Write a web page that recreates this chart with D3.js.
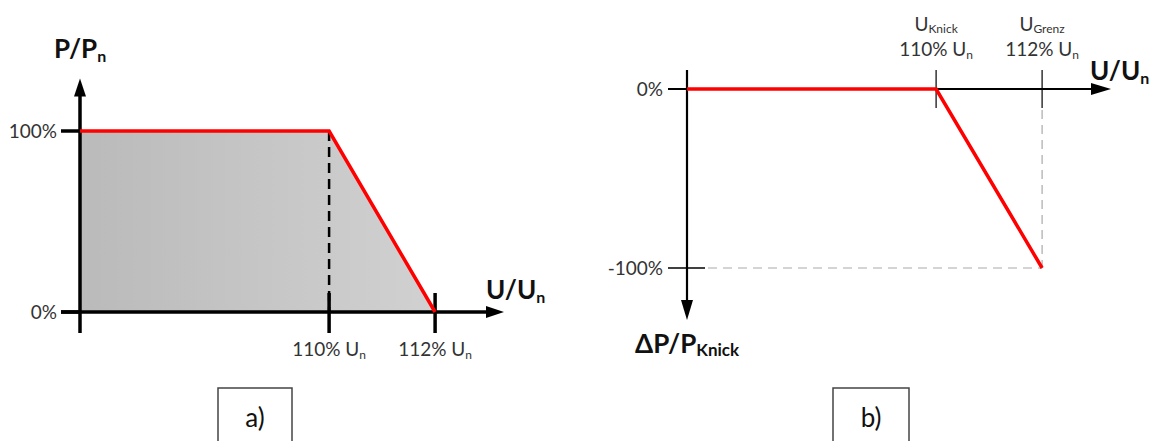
<!DOCTYPE html>
<html>
<head>
<meta charset="utf-8">
<script src="https://cdn.jsdelivr.net/npm/d3@7"></script>
<style>
  html, body { margin: 0; padding: 0; background: #fff; }
  svg { display: block; }
  text { font-family: Lato, "Open Sans", sans-serif; }
</style>
</head>
<body>
<svg id="chart" width="1157" height="441"></svg>
<script>
// Voltage axis (percent of nominal voltage U_n)
const uStart = 105.3;           // where the vertical axis crosses
const uEnd = 113.3;             // arrow tip of the voltage axis
const uKnick = 110;             // knee point
const uGrenz = 112;             // limit point
const uTicks = [uKnick, uGrenz];
const uTickLabels = ["110% U", "112% U"];
const uNameLabels = ["Knick", "Grenz"];

// a) permitted active power P/P_n
const curveA_u = [uStart, uKnick, uGrenz];
const curveA_p = [100, 100, 0];
const pTicks = [0, 100];
const pTickLabels = ["0%", "100%"];

// b) power reduction ΔP/P_Knick
const curveB_u = [uStart, uKnick, uGrenz];
const curveB_dp = [0, 0, -100];
const dpTicks = [0, -100];
const dpTickLabels = ["0%", "-100%"];

const svg = d3.select("#chart");
const RED = "#ff0000";
const LABEL = "#333";

const defs = svg.append("defs");
const grad = defs.append("linearGradient").attr("id", "fillGrad")
  .attr("x1", "0%").attr("x2", "100%").attr("y1", "0%").attr("y2", "0%");
grad.append("stop").attr("offset", "0%").attr("stop-color", "#bababa");
grad.append("stop").attr("offset", "100%").attr("stop-color", "#d1d1d1");

function arrowHead(g, x, y, dir, len, half) {
  let pts;
  if (dir === "right") pts = [[x, y], [x - len, y - half], [x - len, y + half]];
  if (dir === "up") pts = [[x, y], [x - half, y + len], [x + half, y + len]];
  if (dir === "down") pts = [[x, y], [x - half, y - len], [x + half, y - len]];
  g.append("path").attr("d", "M" + pts.map(p => p.join(",")).join("L") + "Z").attr("fill", "#000");
}

// ---------- a) ----------
{
  const x = d3.scaleLinear().domain([uStart, uEnd]).range([80, 504]);
  const y = d3.scaleLinear().domain([0, 100]).range([312, 131]);
  const g = svg.append("g");
  const pts = curveA_u.map((u, i) => [u, curveA_p[i]]);

  // shaded operating area
  const area = d3.area().x(d => x(d[0])).y0(y(0)).y1(d => y(d[1]));
  g.append("path").datum(pts).attr("d", area).attr("fill", "url(#fillGrad)");

  // dashed drop line at the knee
  g.append("line")
    .attr("x1", x(uKnick)).attr("x2", x(uKnick))
    .attr("y1", y(100)).attr("y2", y(0))
    .attr("stroke", "#000").attr("stroke-width", 2.5).attr("stroke-dasharray", "10,6");

  // axes
  g.append("line").attr("x1", 61).attr("x2", x(uEnd) - 14).attr("y1", y(0)).attr("y2", y(0))
    .attr("stroke", "#000").attr("stroke-width", 3.5);
  arrowHead(g, x(uEnd), y(0), "right", 18, 6);
  g.append("line").attr("x1", x(uStart)).attr("x2", x(uStart)).attr("y1", y(129) + 14).attr("y2", 333)
    .attr("stroke", "#000").attr("stroke-width", 3.5);
  arrowHead(g, x(uStart), y(129), "up", 18, 6);

  // y ticks
  pTicks.forEach((p, i) => {
    g.append("line").attr("x1", 61).attr("x2", x(uStart)).attr("y1", y(p)).attr("y2", y(p))
      .attr("stroke", "#000").attr("stroke-width", 3.5);
    g.append("text").attr("x", 57).attr("y", y(p)).attr("dy", "0.35em")
      .attr("text-anchor", "end").attr("font-size", 19).attr("fill", LABEL).text(pTickLabels[i]);
  });

  // x ticks
  uTicks.forEach((u, i) => {
    g.append("line").attr("x1", x(u)).attr("x2", x(u)).attr("y1", 293).attr("y2", 333)
      .attr("stroke", "#000").attr("stroke-width", 3.5);
    const t = g.append("text").attr("x", x(u)).attr("y", 356).attr("text-anchor", "middle")
      .attr("font-size", 19).attr("fill", LABEL);
    t.append("tspan").text(uTickLabels[i]);
    t.append("tspan").attr("font-size", 12).attr("dy", 3).text("n");
  });

  // characteristic curve
  const line = d3.line().x(d => x(d[0])).y(d => y(d[1]));
  g.append("path").datum(pts).attr("d", line).attr("fill", "none")
    .attr("stroke", RED).attr("stroke-width", 3.5).attr("stroke-linejoin", "miter");

  // axis titles
  const yt = g.append("text").attr("x", 54).attr("y", 58).attr("font-size", 26)
    .attr("font-weight", "bold").attr("fill", "#111");
  yt.append("tspan").text("P/P");
  yt.append("tspan").attr("font-size", 16).attr("dy", 4).text("n");
  const xt = g.append("text").attr("x", 486).attr("y", 299).attr("font-size", 26)
    .attr("font-weight", "bold").attr("fill", "#111");
  xt.append("tspan").text("U/U");
  xt.append("tspan").attr("font-size", 16).attr("dy", 4).text("n");
}

// ---------- b) ----------
{
  const x = d3.scaleLinear().domain([uStart, uEnd]).range([687, 1111]);
  const y = d3.scaleLinear().domain([0, -100]).range([89, 268]);
  const g = svg.append("g");
  const pts = curveB_u.map((u, i) => [u, curveB_dp[i]]);

  // dashed guides to the end point
  g.append("line").attr("x1", 708).attr("x2", x(uGrenz)).attr("y1", y(-100)).attr("y2", y(-100))
    .attr("stroke", "#aaa").attr("stroke-width", 1.2).attr("stroke-dasharray", "9,6");
  g.append("line").attr("x1", x(uGrenz)).attr("x2", x(uGrenz)).attr("y1", 110).attr("y2", y(-100))
    .attr("stroke", "#aaa").attr("stroke-width", 1.2).attr("stroke-dasharray", "9,6");

  // axes
  g.append("line").attr("x1", 668).attr("x2", x(uEnd) - 14).attr("y1", y(0)).attr("y2", y(0))
    .attr("stroke", "#000").attr("stroke-width", 2.2);
  arrowHead(g, x(uEnd), y(0), "right", 20, 6);
  g.append("line").attr("x1", x(uStart)).attr("x2", x(uStart)).attr("y1", 70).attr("y2", 306)
    .attr("stroke", "#000").attr("stroke-width", 2.2);
  arrowHead(g, x(uStart), 320, "down", 20, 6);

  // y ticks
  dpTicks.forEach((p, i) => {
    g.append("line").attr("x1", 668).attr("x2", 705).attr("y1", y(p)).attr("y2", y(p))
      .attr("stroke", "#000").attr("stroke-width", 1.5);
    g.append("text").attr("x", 663).attr("y", y(p)).attr("dy", "0.35em")
      .attr("text-anchor", "end").attr("font-size", 19).attr("fill", LABEL).text(dpTickLabels[i]);
  });

  // x ticks with two-line labels
  uTicks.forEach((u, i) => {
    g.append("line").attr("x1", x(u)).attr("x2", x(u)).attr("y1", 70).attr("y2", 108)
      .attr("stroke", "#000").attr("stroke-width", 1.2);
    const t1 = g.append("text").attr("x", x(u)).attr("y", 31).attr("text-anchor", "middle")
      .attr("font-size", 19).attr("fill", LABEL);
    t1.append("tspan").text("U");
    t1.append("tspan").attr("font-size", 12).attr("dy", 2).text(uNameLabels[i]);
    const t2 = g.append("text").attr("x", x(u)).attr("y", 56).attr("text-anchor", "middle")
      .attr("font-size", 19).attr("fill", LABEL);
    t2.append("tspan").text(uTickLabels[i]);
    t2.append("tspan").attr("font-size", 12).attr("dy", 3).text("n");
  });

  // characteristic curve
  const line = d3.line().x(d => x(d[0])).y(d => y(d[1]));
  g.append("path").datum(pts).attr("d", line).attr("fill", "none")
    .attr("stroke", RED).attr("stroke-width", 3.5).attr("stroke-linejoin", "miter");

  // axis titles
  const xt = g.append("text").attr("x", 1090).attr("y", 80).attr("font-size", 26)
    .attr("font-weight", "bold").attr("fill", "#111");
  xt.append("tspan").text("U/U");
  xt.append("tspan").attr("font-size", 16).attr("dy", 4).text("n");
  const yt = g.append("text").attr("x", 635).attr("y", 353).attr("font-size", 26)
    .attr("font-weight", "bold").attr("fill", "#111");
  yt.append("tspan").text("ΔP/P");
  yt.append("tspan").attr("font-size", 17).attr("dy", 3).text("Knick");
}

// ---------- panel captions ----------
[["a)", 218, 292], ["b)", 833, 909]].forEach(([lab, x0, x1]) => {
  svg.append("rect").attr("x", x0).attr("y", 388).attr("width", x1 - x0).attr("height", 60)
    .attr("fill", "#fff").attr("stroke", "#444").attr("stroke-width", 1.5);
  svg.append("text").attr("x", (x0 + x1) / 2).attr("y", 427).attr("text-anchor", "middle")
    .attr("font-family", "'Liberation Sans', Arial, sans-serif").attr("font-size", 26)
    .attr("fill", "#111").text(lab);
});
</script>
</body>
</html>
